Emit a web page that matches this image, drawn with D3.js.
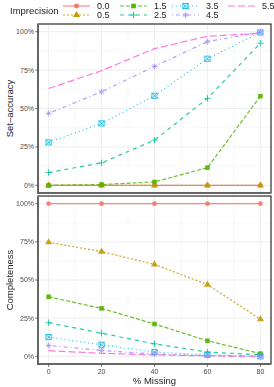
<!DOCTYPE html>
<html>
<head>
<meta charset="utf-8">
<script src="https://cdn.jsdelivr.net/npm/d3@7"></script>
<style>
  body { margin: 0; background: #fff; }
  text { font-family: "Liberation Sans", Arial, sans-serif; }
</style>
</head>
<body>
<svg id="chart" width="274" height="387"></svg>
<script>
// data
const missing = [0, 20, 40, 60, 80];
const levels = ['0.0', '0.5', '1.5', '2.5', '3.5', '4.5', '5.5'];
const colors = ['#F8766D', '#C49A00', '#53B400', '#00C094', '#00B6EB', '#A58AFF', '#FB61D7'];
const dashes = ['none', '2,2', '4,2', '4,4', '1,3', '1,3,4,3', '7,3'];
const shapes = ['circle', 'triangle', 'square', 'plus', 'boxx', 'star', 'none'];

const setAccuracy = {
  '0.0': [0, 0, 0, 0, 0],
  '0.5': [0, 0, 0, 0, 0],
  '1.5': [0, 0.5, 2.2, 11.5, 58],
  '2.5': [8.3, 14.6, 29.4, 56.6, 92.5],
  '3.5': [27.9, 40.3, 58.3, 82.4, 99.5],
  '4.5': [46.8, 60.9, 77.4, 93.5, 99.7],
  '5.5': [63, 74.6, 89, 97, 99]
};
const completeness = {
  '0.0': [100, 100, 100, 100, 100],
  '0.5': [74.7, 68.6, 60.2, 47, 24.3],
  '1.5': [39, 31.4, 21.2, 10.2, 1.8],
  '2.5': [22, 15.2, 8.2, 2.8, 1],
  '3.5': [12.6, 7.6, 2.8, 1, 0],
  '4.5': [7.1, 3.9, 1.5, 0.5, 0],
  '5.5': [3.7, 2, 1, 0.3, 0]
};
const yTicks = [0, 25, 50, 75, 100];
const xTicks = [0, 20, 40, 60, 80];

const svg = d3.select('#chart');
const left = 38, right = 271;

const x = d3.scaleLinear().domain([-4, 84]).range([left, right]);

function drawShape(g, shape, color, cx, cy) {
  const s = 2.6;
  if (shape === 'circle') {
    g.append('circle').attr('cx', cx).attr('cy', cy).attr('r', 2.4).attr('fill', color);
  } else if (shape === 'triangle') {
    g.append('path').attr('d', d3.symbol(d3.symbolTriangle, 22)()).attr('transform', `translate(${cx},${cy})`).attr('fill', color);
  } else if (shape === 'square') {
    g.append('rect').attr('x', cx - 2.3).attr('y', cy - 2.3).attr('width', 4.6).attr('height', 4.6).attr('fill', color);
  } else if (shape === 'plus') {
    g.append('path').attr('d', `M${cx - s - 0.6},${cy}H${cx + s + 0.6}M${cx},${cy - s - 0.6}V${cy + s + 0.6}`)
      .attr('stroke', color).attr('stroke-width', 0.9).attr('fill', 'none');
  } else if (shape === 'boxx') {
    g.append('rect').attr('x', cx - s).attr('y', cy - s).attr('width', 2 * s).attr('height', 2 * s)
      .attr('stroke', color).attr('stroke-width', 0.9).attr('fill', 'none');
    g.append('path').attr('d', `M${cx - s},${cy - s}L${cx + s},${cy + s}M${cx - s},${cy + s}L${cx + s},${cy - s}`)
      .attr('stroke', color).attr('stroke-width', 0.9);
  } else if (shape === 'star') {
    const r = s + 0.4, d = r * 0.707;
    g.append('path').attr('d', `M${cx - r},${cy}H${cx + r}M${cx},${cy - r}V${cy + r}M${cx - d},${cy - d}L${cx + d},${cy + d}M${cx - d},${cy + d}L${cx + d},${cy - d}`)
      .attr('stroke', color).attr('stroke-width', 0.8);
  }
}

function drawPanel(top, bottom, data, title) {
  const y = d3.scaleLinear().domain([-5, 105]).range([bottom, top]);
  const g = svg.append('g');

  // grid
  const minorY = [12.5, 37.5, 62.5, 87.5];
  const minorX = [10, 30, 50, 70];
  g.selectAll('.minY').data(minorY).join('line')
    .attr('x1', left).attr('x2', right).attr('y1', d => y(d)).attr('y2', d => y(d))
    .attr('stroke', '#F3F3F3').attr('stroke-width', 0.5);
  g.selectAll('.minX').data(minorX).join('line')
    .attr('y1', top).attr('y2', bottom).attr('x1', d => x(d)).attr('x2', d => x(d))
    .attr('stroke', '#F3F3F3').attr('stroke-width', 0.5);
  g.selectAll('.majY').data(yTicks).join('line')
    .attr('x1', left).attr('x2', right).attr('y1', d => y(d)).attr('y2', d => y(d))
    .attr('stroke', '#EBEBEB').attr('stroke-width', 0.8);
  g.selectAll('.majX').data(xTicks).join('line')
    .attr('y1', top).attr('y2', bottom).attr('x1', d => x(d)).attr('x2', d => x(d))
    .attr('stroke', '#EBEBEB').attr('stroke-width', 0.8);

  // series
  const line = d3.line().x((d, i) => x(missing[i])).y(d => y(d));
  levels.forEach((lv, k) => {
    g.append('path').datum(data[lv]).attr('d', line)
      .attr('fill', 'none').attr('stroke', colors[k]).attr('stroke-width', 1.2)
      .attr('stroke-dasharray', dashes[k]).attr('opacity', 0.85);
  });
  levels.forEach((lv, k) => {
    const pg = g.append('g').attr('opacity', 0.9);
    data[lv].forEach((v, i) => drawShape(pg, shapes[k], colors[k], x(missing[i]), y(v)));
  });

  // frame
  g.append('rect').attr('x', left).attr('y', top).attr('width', right - left).attr('height', bottom - top)
    .attr('fill', 'none').attr('stroke', '#000').attr('stroke-width', 1);
  g.append('path').attr('d', `M${left},${top}V${bottom}H${right}`)
    .attr('fill', 'none').attr('stroke', '#666').attr('stroke-width', 2);

  // y axis
  g.selectAll('.yt').data(yTicks).join('line')
    .attr('x1', left - 3).attr('x2', left).attr('y1', d => y(d)).attr('y2', d => y(d))
    .attr('stroke', '#333').attr('stroke-width', 0.6);
  g.selectAll('.yl').data(yTicks).join('text')
    .attr('x', left - 4).attr('y', d => y(d)).attr('dy', '0.35em')
    .attr('text-anchor', 'end').attr('font-size', 7).attr('fill', '#4D4D4D')
    .text(d => d + '%');
  g.append('text')
    .attr('transform', `translate(13,${(top + bottom) / 2}) rotate(-90)`)
    .attr('text-anchor', 'middle').attr('font-size', 9.5).attr('fill', '#222')
    .text(title);
  return y;
}

drawPanel(24, 193, setAccuracy, 'Set\u2013accuracy');
drawPanel(196, 364, completeness, 'Completeness');

// x axis
const xa = svg.append('g');
xa.selectAll('line').data(xTicks).join('line')
  .attr('x1', d => x(d)).attr('x2', d => x(d)).attr('y1', 364).attr('y2', 367)
  .attr('stroke', '#333').attr('stroke-width', 0.6);
xa.selectAll('text').data(xTicks).join('text')
  .attr('x', d => x(d)).attr('y', 374).attr('text-anchor', 'middle')
  .attr('font-size', 7).attr('fill', '#4D4D4D').text(d => d);
svg.append('text').attr('x', (left + right) / 2).attr('y', 384).attr('text-anchor', 'middle')
  .attr('font-size', 9.5).attr('fill', '#222').text('% Missing');

// legend, two rows filled column by column
svg.append('text').attr('x', 10).attr('y', 13.5).attr('font-size', 9.5).attr('fill', '#222').text('Imprecision');
const colX = [63, 120, 172, 228];
const legendCol = [0, 0, 1, 1, 2, 2, 3];
const legendRow = [0, 1, 0, 1, 0, 1, 0];
levels.forEach((lv, k) => {
  const lx = colX[legendCol[k]], ly = legendRow[k] === 0 ? 6 : 15;
  const lg = svg.append('g');
  lg.append('line').attr('x1', lx).attr('x2', lx + 27).attr('y1', ly).attr('y2', ly)
    .attr('stroke', colors[k]).attr('stroke-width', 1.2).attr('stroke-dasharray', dashes[k]).attr('opacity', 0.85);
  drawShape(lg, shapes[k], colors[k], lx + 13.5, ly);
  lg.append('text').attr('x', lx + 34).attr('y', ly).attr('dy', '0.35em')
    .attr('font-size', 9).attr('fill', '#222').text(lv);
});
</script>
</body>
</html>
